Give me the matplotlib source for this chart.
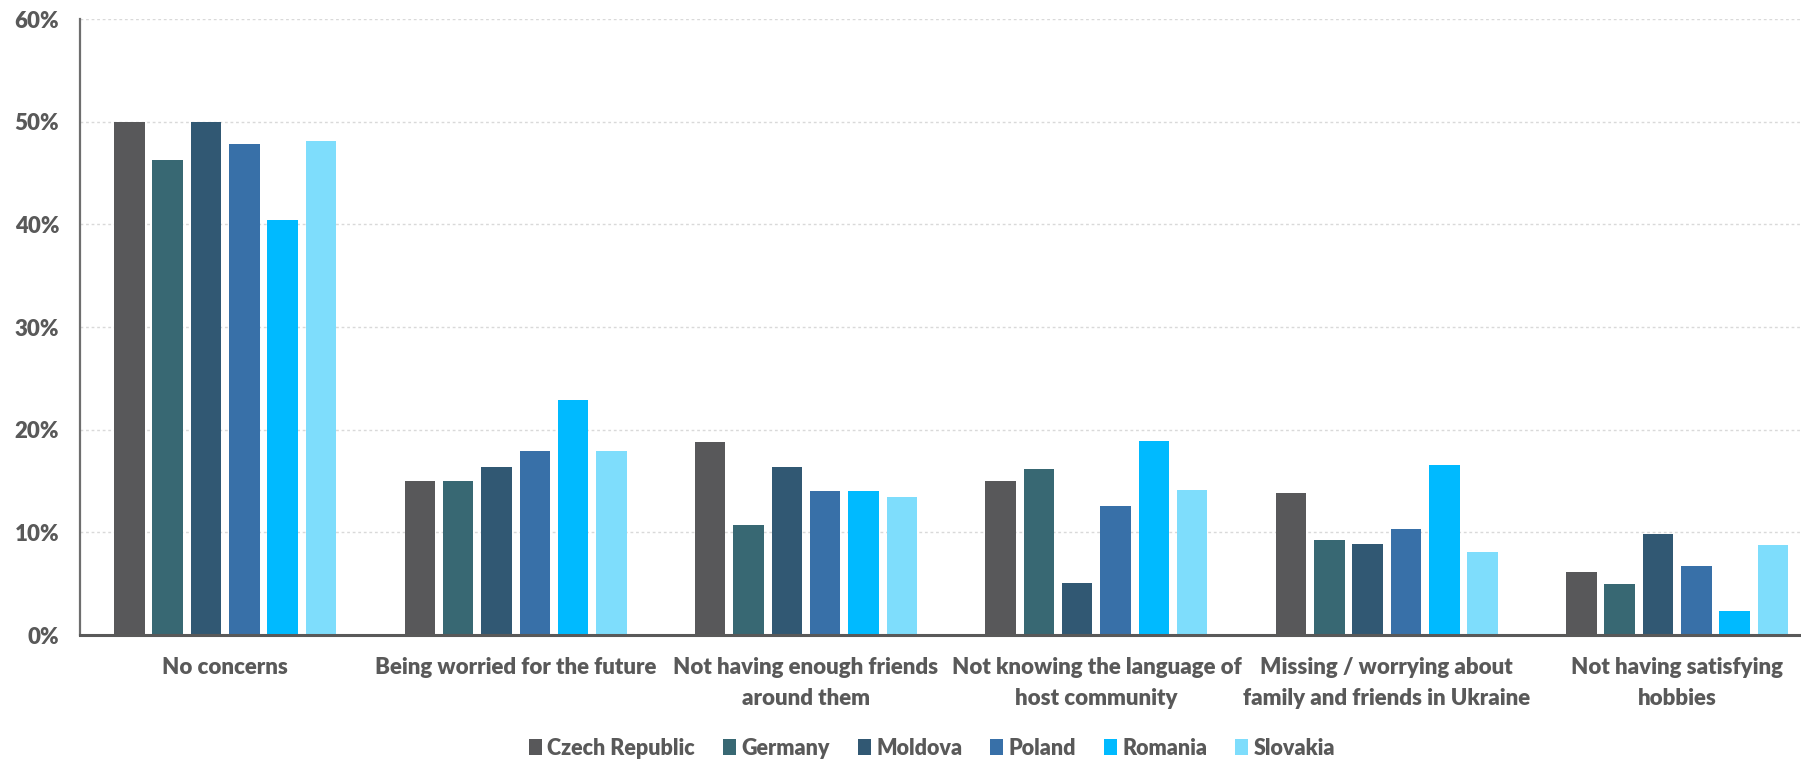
import matplotlib
matplotlib.use("Agg")
import matplotlib.pyplot as plt
from matplotlib.patches import Patch
import numpy as np

categories = [
    "No concerns",
    "Being worried for the future",
    "Not having enough friends\naround them",
    "Not knowing the language of\nhost community",
    "Missing / worrying about\nfamily and friends in Ukraine",
    "Not having satisfying\nhobbies",
]
countries = ["Czech Republic", "Germany", "Moldova", "Poland", "Romania", "Slovakia"]

czech_republic = [50.0, 15.0, 18.8, 15.0, 13.8, 6.1]
germany = [46.3, 15.0, 10.7, 16.2, 9.3, 5.0]
moldova = [50.0, 16.4, 16.4, 5.1, 8.9, 9.8]
poland = [47.8, 17.9, 14.0, 12.6, 10.3, 6.7]
romania = [40.4, 22.9, 14.0, 18.9, 16.6, 2.3]
slovakia = [48.1, 17.9, 13.4, 14.1, 8.1, 8.8]

series = [czech_republic, germany, moldova, poland, romania, slovakia]
colors = ["#58585A", "#386873", "#315873", "#3870A8", "#00BAFF", "#7EDDFC"]

yticks = [0, 10, 20, 30, 40, 50, 60]

text_color = "#595959"
plt.rcParams["font.family"] = ["Lato", "DejaVu Sans"]
plt.rcParams["font.weight"] = "bold"

fig = plt.figure(figsize=(18.01, 7.61), dpi=100)
ax = fig.add_axes([80 / 1801, 1 - 635 / 761, 1742.4 / 1801, 616 / 761])

x = np.arange(len(categories))
pitch = 0.132
width = 0.105
for j, (vals, col) in enumerate(zip(series, colors)):
    ax.bar(x + (j - 2.5) * pitch, vals, width=width, color=col, zorder=3)

ax.set_xlim(-0.5, len(categories) - 0.5)
ax.set_ylim(0, 60)
ax.set_yticks(yticks)
ax.set_yticklabels([f"{t}%" for t in yticks])
ax.set_xticks(x)
ax.set_xticklabels(categories, linespacing=1.6)

ax.tick_params(axis="y", length=0, pad=15, labelsize=16, labelcolor=text_color)
ax.tick_params(axis="x", length=0, pad=16, labelsize=16, labelcolor=text_color)
for lbl in ax.get_xticklabels() + ax.get_yticklabels():
    lbl.set_fontweight("heavy")

ax.grid(axis="y", color="#D9D9D9", linestyle=(0, (2, 2)), linewidth=1, zorder=0)
ax.set_axisbelow(True)
for s in ["top", "right"]:
    ax.spines[s].set_visible(False)
ax.spines["left"].set_color("#6E6E6E")
ax.spines["left"].set_linewidth(1.6)
ax.spines["bottom"].set_color("#595959")
ax.spines["bottom"].set_linewidth(2.2)
ax.spines["bottom"].set_zorder(4)

handles = [Patch(facecolor=c, edgecolor="none") for c in colors]
leg = fig.legend(handles, countries, loc="center", bbox_to_anchor=(0.5175, 0.017),
                 ncol=6, frameon=False, fontsize=15.5, handlelength=0.6,
                 handleheight=0.7, handletextpad=0.25, columnspacing=1.3)
for t in leg.get_texts():
    t.set_color(text_color)
    t.set_fontweight("heavy")

fig.savefig("out.png", dpi=100)
